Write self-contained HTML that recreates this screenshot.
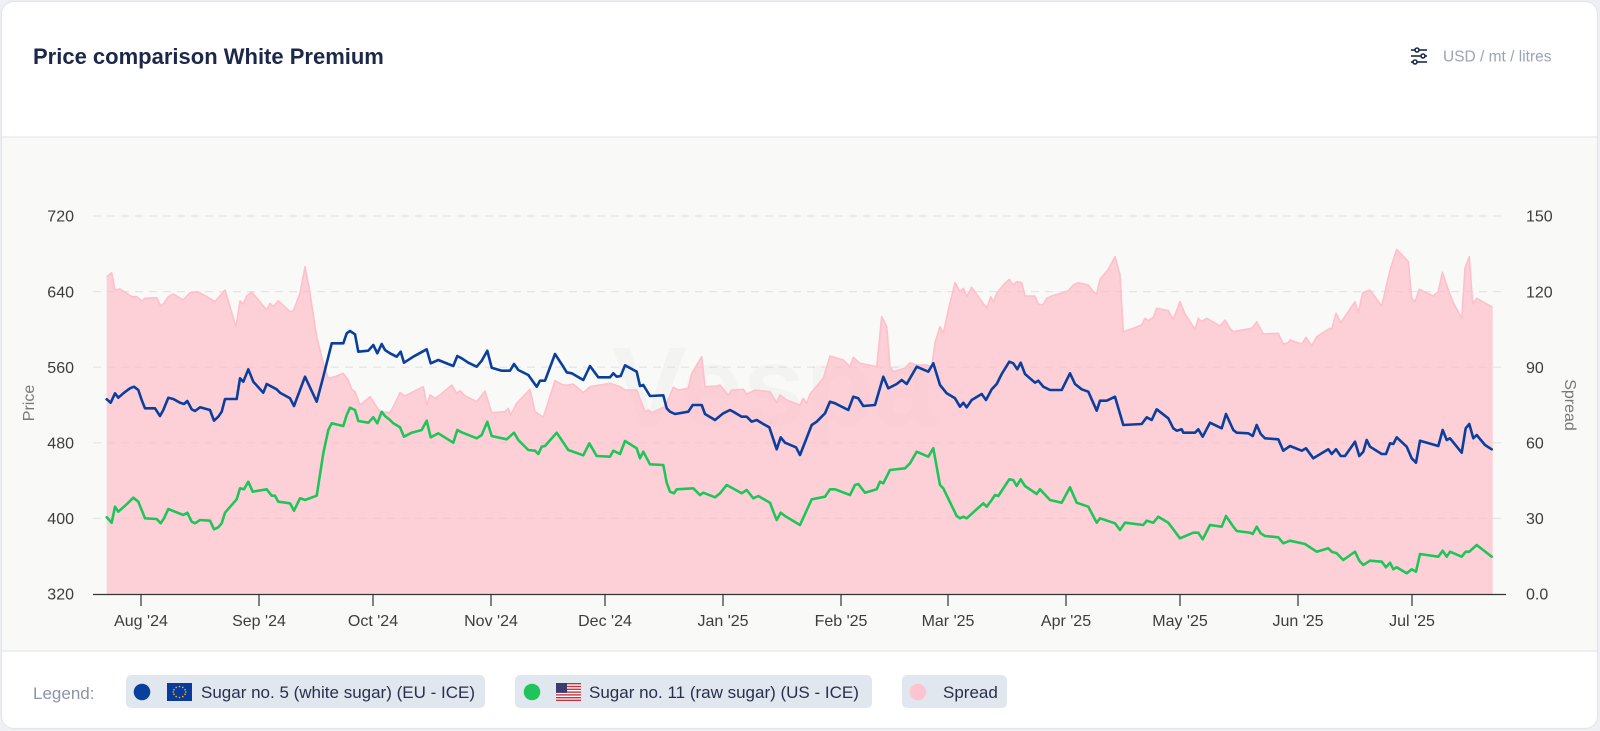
<!DOCTYPE html>
<html><head><meta charset="utf-8"><style>
html,body{margin:0;padding:0;background:#eef0f3;width:1600px;height:731px;overflow:hidden}
svg{display:block;font-family:"Liberation Sans",Arial,sans-serif}
</style></head><body>
<svg width="1600" height="731" viewBox="0 0 1600 731" xmlns="http://www.w3.org/2000/svg">
<defs><clipPath id="card"><rect x="1" y="1" width="1597" height="728" rx="12"/></clipPath></defs>
<g clip-path="url(#card)">
<rect x="0" y="0" width="1600" height="731" fill="#ffffff"/>
<rect x="0" y="137" width="1600" height="514" fill="#f9f9f8"/>
<line x1="0" y1="137" x2="1600" y2="137" stroke="#e6e8ec" stroke-width="1.2"/>
<line x1="0" y1="651" x2="1600" y2="651" stroke="#e6e8ec" stroke-width="1.2"/>
</g>
<rect x="1.5" y="1.5" width="1596" height="727" rx="12" fill="none" stroke="#e3e5ea" stroke-width="1.2"/>

<text x="33" y="64" font-size="22" font-weight="bold" fill="#1d2749">Price comparison White Premium</text>
<g stroke="#1e2a4e" stroke-width="1.6" fill="#fff">
<line x1="1411" y1="50" x2="1427" y2="50"/><line x1="1411" y1="56" x2="1427" y2="56"/><line x1="1411" y1="62" x2="1427" y2="62"/>
<circle cx="1417" cy="50" r="2"/><circle cx="1423" cy="56" r="2"/><circle cx="1415" cy="62" r="2"/>
</g>
<text x="1443" y="61.5" font-size="15.5" fill="#9ca3b8">USD / mt / litres</text>

<!-- grid -->
<g stroke="#e4e4e4" stroke-width="1.2" stroke-dasharray="8,6">
<line x1="93" y1="216" x2="1506" y2="216"/>
<line x1="93" y1="291.6" x2="1506" y2="291.6"/>
<line x1="93" y1="367.2" x2="1506" y2="367.2"/>
<line x1="93" y1="442.8" x2="1506" y2="442.8"/>
<line x1="93" y1="518.4" x2="1506" y2="518.4"/>
</g>

<text x="612" y="425" font-size="112" font-weight="bold" fill="#999" opacity="0.05">Vespa</text>

<!-- spread area -->
<path fill="#ffb6c3" fill-opacity="0.62" stroke="none" d="M106.7,594 L106.7,276.7 111.7,272.7 115,290 120,289 126.7,293.3 131.7,296.7 136.7,296.7 141.7,301 145,298.3 156.7,297.7 160.7,306 164,303.3 168.3,296.7 173.3,294 183.3,300 190,292.7 198.3,292 206.7,296.7 215,301.7 225,290 230,306.7 236,326.7 240,301 243.3,304 246.7,296 251.7,292 260,301.7 266.7,310 270,303.3 273.3,306.7 278.3,300.7 290,311.7 293.3,311 300,293.3 305,266.7 310,293.3 316.7,336.7 323.3,363.3 328.3,378.3 335,376.7 343.3,373.3 348.3,380 351.7,389.3 355,391.7 360,405 370,396.7 380,411.7 390,412.7 395,403.3 400,392.7 405,396 413.3,391.7 423.3,386.7 426.7,405 430,395 435,398.3 440,395 451.7,385 456.7,393.3 460,390.7 465,395.7 476.7,401.7 485,391 491.7,412.7 505,411.7 508.3,408.3 510.7,415 516.7,403.3 530,389.3 535,411.7 543.3,417.3 555,380.7 563.3,385 568.3,385 573.3,384 583.3,392.7 590,386.7 610,383.3 620,386.7 625,390 636.7,390 645,411.7 648.3,410 651.7,412.7 665,406.7 673.3,387.3 678.3,390 688.3,388.3 691.7,373.3 701.7,356.7 705,386.7 716.7,386 720,385 728.3,395 731.7,390 743.3,389.3 746.7,394 755,390 770,391.7 776.7,402.7 780,395 786.7,400 800,405 803.3,398.3 806.7,403.3 810,394 823.3,378.3 830,356 843.3,360 850,366.7 853.3,357.3 860,363.3 873.3,366 876.7,366.7 881.7,316.7 886.7,326.7 890,366.7 893.3,371.7 905,368.3 910,362.7 916.7,365 926.7,365 931.7,366.7 935,342.7 940,326.7 943.3,333.3 948.3,310 955,282.7 960,291.7 963.3,288.3 966.7,296.7 971.7,287.3 986.7,308.3 990.7,296.7 993.3,301.7 996.7,293.3 1003.3,285 1009.3,279.3 1012.7,285 1016.7,281.7 1021.7,282.7 1025,296 1035,296 1038.3,304 1042.7,305 1046.7,298.3 1051.7,296 1063.3,292.7 1068.3,290.7 1073.3,285 1078.3,282.7 1088.3,285 1093.3,291.7 1096.7,294 1100,279.3 1108.3,269.3 1115,256.7 1120,275 1123.3,331.7 1133.3,328.3 1141.7,325 1145,318.3 1148.3,320.7 1153.3,317.3 1156.7,308.3 1168.3,310.7 1173.3,319.3 1180,301.7 1185,314 1195,329.3 1198.3,318.3 1201.7,321.7 1206.7,318.3 1220,326 1225,320 1230,328.3 1233.3,331.7 1251.7,328.3 1256.7,321.7 1263.3,334 1278.3,333.3 1283.3,344 1288.3,342.7 1290,340 1301.7,344 1306,337.3 1311.7,346 1316.7,336.7 1330,328.3 1331.7,329.3 1336,313.3 1340.7,322.7 1355,301.7 1358.3,312.7 1362.7,292.7 1370,290 1381.7,306 1390,270 1396.7,249.3 1408.3,261.7 1411.7,298.3 1415,301.7 1419.3,289.3 1433.3,296 1438.3,291.7 1442.3,272.3 1448.3,290 1453.3,302.7 1461.7,318.3 1465,268.3 1469.3,256.7 1472.7,304 1476.7,298.3 1492.7,307.3 L1492.7,594 Z"/>
<polyline fill="none" stroke="#ffbfcb" stroke-width="1.6" stroke-linejoin="round" points="106.7,276.7 111.7,272.7 115,290 120,289 126.7,293.3 131.7,296.7 136.7,296.7 141.7,301 145,298.3 156.7,297.7 160.7,306 164,303.3 168.3,296.7 173.3,294 183.3,300 190,292.7 198.3,292 206.7,296.7 215,301.7 225,290 230,306.7 236,326.7 240,301 243.3,304 246.7,296 251.7,292 260,301.7 266.7,310 270,303.3 273.3,306.7 278.3,300.7 290,311.7 293.3,311 300,293.3 305,266.7 310,293.3 316.7,336.7 323.3,363.3 328.3,378.3 335,376.7 343.3,373.3 348.3,380 351.7,389.3 355,391.7 360,405 370,396.7 380,411.7 390,412.7 395,403.3 400,392.7 405,396 413.3,391.7 423.3,386.7 426.7,405 430,395 435,398.3 440,395 451.7,385 456.7,393.3 460,390.7 465,395.7 476.7,401.7 485,391 491.7,412.7 505,411.7 508.3,408.3 510.7,415 516.7,403.3 530,389.3 535,411.7 543.3,417.3 555,380.7 563.3,385 568.3,385 573.3,384 583.3,392.7 590,386.7 610,383.3 620,386.7 625,390 636.7,390 645,411.7 648.3,410 651.7,412.7 665,406.7 673.3,387.3 678.3,390 688.3,388.3 691.7,373.3 701.7,356.7 705,386.7 716.7,386 720,385 728.3,395 731.7,390 743.3,389.3 746.7,394 755,390 770,391.7 776.7,402.7 780,395 786.7,400 800,405 803.3,398.3 806.7,403.3 810,394 823.3,378.3 830,356 843.3,360 850,366.7 853.3,357.3 860,363.3 873.3,366 876.7,366.7 881.7,316.7 886.7,326.7 890,366.7 893.3,371.7 905,368.3 910,362.7 916.7,365 926.7,365 931.7,366.7 935,342.7 940,326.7 943.3,333.3 948.3,310 955,282.7 960,291.7 963.3,288.3 966.7,296.7 971.7,287.3 986.7,308.3 990.7,296.7 993.3,301.7 996.7,293.3 1003.3,285 1009.3,279.3 1012.7,285 1016.7,281.7 1021.7,282.7 1025,296 1035,296 1038.3,304 1042.7,305 1046.7,298.3 1051.7,296 1063.3,292.7 1068.3,290.7 1073.3,285 1078.3,282.7 1088.3,285 1093.3,291.7 1096.7,294 1100,279.3 1108.3,269.3 1115,256.7 1120,275 1123.3,331.7 1133.3,328.3 1141.7,325 1145,318.3 1148.3,320.7 1153.3,317.3 1156.7,308.3 1168.3,310.7 1173.3,319.3 1180,301.7 1185,314 1195,329.3 1198.3,318.3 1201.7,321.7 1206.7,318.3 1220,326 1225,320 1230,328.3 1233.3,331.7 1251.7,328.3 1256.7,321.7 1263.3,334 1278.3,333.3 1283.3,344 1288.3,342.7 1290,340 1301.7,344 1306,337.3 1311.7,346 1316.7,336.7 1330,328.3 1331.7,329.3 1336,313.3 1340.7,322.7 1355,301.7 1358.3,312.7 1362.7,292.7 1370,290 1381.7,306 1390,270 1396.7,249.3 1408.3,261.7 1411.7,298.3 1415,301.7 1419.3,289.3 1433.3,296 1438.3,291.7 1442.3,272.3 1448.3,290 1453.3,302.7 1461.7,318.3 1465,268.3 1469.3,256.7 1472.7,304 1476.7,298.3 1492.7,307.3"/>

<!-- blue -->
<polyline fill="none" stroke="#0b3f9e" stroke-width="2.6" stroke-linejoin="round" stroke-linecap="round" points="106.7,399.3 110.7,402.7 115,393.3 118.3,397.7 123.3,393.3 130,388.3 134,386.7 138.3,390 141.7,400 145,408.3 155,408.3 160,416 163.3,410 168.3,397.7 173.3,399 180,402.7 184,404 187.3,401 191.7,409.3 195,411 200,407.3 210,410 214,420.7 218.3,416.7 221.7,411.7 225,399 236.7,399 240,378.3 243.3,381.7 248.3,369.3 253.3,381.7 263.3,392.7 266.7,384 271.7,386.7 276.7,389.3 280,392.7 290,398.3 294,406 305,376.7 316.7,401.7 323.3,376.7 331.7,343.3 343.3,343.3 346.7,333.3 350,331 355,334.3 358.3,351.7 368.3,350.7 373.3,345 377.3,353.3 381.7,344 385,350 390,353.3 396.7,356.7 400.7,351.7 404,362.7 413.3,356.7 426.7,349.3 430.7,363.3 438.3,360 453.3,366 457.3,356 461.7,358.3 468.3,362.7 476.7,366.7 481.7,360.7 487.3,350.7 491.7,367.7 501.7,370.7 510,370.7 514,364 518.3,370 528.3,375 536.7,386.7 540,380.7 545,380.7 555,354 563.3,366.7 566.7,372.3 571.7,373.3 583.3,380 590,366 598.3,377.3 610,377.3 613.3,373.3 616.7,376.7 620.7,376 625,365.3 636.7,371.7 640,386 643.3,385 650,396 663.3,395.3 666.7,408.3 670,411.7 675,414 688.3,411.7 692.7,405 701.7,405 705,414 715,420 723.3,413.3 730,410 735,412.7 741.7,416.7 746.7,416.7 751.7,421.7 756.7,420 763.3,424 769.3,427.3 776.7,449.3 780.7,437.3 785,442.7 796,447.3 800,455 811.7,425 816.7,421.7 825,413.3 830,401.7 835,403.3 848.3,410 853.3,396.7 858.3,398.3 863.3,406 875,405 883.3,376.7 888.3,388.3 896.7,384 901.7,380 906.7,384 916.7,366.7 928.3,371.7 933.3,363.3 940,385 946.7,393.3 955,398.3 960,406.7 963.3,402.7 966.7,407.3 971.7,400 981.7,394 986,400 991.7,389.3 996.7,384 1001.7,374 1009.3,361.7 1013.3,363.3 1017.3,369.3 1020.7,362.7 1025,374 1035,382.7 1038.3,380.7 1043.3,386.7 1050,390 1061.7,390 1070,373.3 1075,384 1081.7,389.3 1088.3,391.7 1096.7,410.7 1100,400.7 1106.7,400.7 1115,396.7 1123.3,425 1141.7,424 1146.7,417.3 1151.7,420 1156.7,409.3 1168.3,418.3 1173.3,428.3 1176.7,430.7 1181.7,429.3 1183.3,432.7 1195,432.7 1198.3,429.3 1202.7,436.7 1210,422.7 1221.7,428.3 1226,414 1233.3,430 1236.7,432.7 1248.3,433.3 1252.7,436 1256.7,425 1260.7,434 1265,438.3 1278.3,439.3 1283.3,450.7 1290,446 1301.7,450.7 1306,448.3 1313.3,458.3 1328.3,449.3 1331.7,454 1336,449.3 1340.7,456 1345,456 1355,441.7 1359.3,456 1363.3,451.7 1366.7,440 1370,446.7 1381.7,454 1386,454 1390,443.3 1393.3,444 1396.7,437.3 1406.7,446.7 1411.7,458.3 1416,462.7 1420,440.7 1438.3,446 1442.7,430 1446.7,440 1450,438.3 1461.7,452.7 1465.7,428.3 1469.3,424 1473.3,438.3 1476.7,435 1485,445 1491.7,449.3"/>

<!-- green -->
<polyline fill="none" stroke="#1fc55a" stroke-width="2.6" stroke-linejoin="round" stroke-linecap="round" points="106.7,517.3 111.7,522.7 115,506.7 118.3,511.7 123.3,507.3 128.3,502.7 133.3,497.7 138.3,501.7 145,518.3 156.7,519 160.7,523.3 164,518.3 168.3,509 183.3,515 187.3,512.7 191.7,521.7 195,523.3 200,520 210,520.7 214,529.3 218.3,527.3 221.7,523.3 225,512.7 236.7,499.3 240,488.3 244,489.3 248.3,481.7 252.7,491.7 266.7,489.3 271.7,495.7 275,495.7 278.3,501.7 290,503.3 294,510.7 300,498.3 303.3,499.3 305,500 316.7,495.7 323.3,453.3 328.3,430 331.7,423.3 343.3,426 346.7,415 350,407.7 355,410 358.3,421 368.3,422.7 373.3,417.3 377.3,423.3 381.7,411.7 385,416 390,420 393.3,423.3 400,427.3 404,436.7 411.7,432.7 421.7,430 426.7,420.7 430.7,437.3 438.3,433.3 453.3,442.7 457.3,430 461.7,432.3 476.7,438.3 481.7,435 487.3,421.7 491.7,436 506.7,439.3 514,432.7 518.3,440 528.3,450 535,450.7 538.3,454 541.7,446.7 545,446 556.7,432.7 568.3,450 583.3,455.3 589.3,443.3 596.7,456 610,456.7 613.3,450.7 620,454 625,441 636.7,448.3 640,458.3 643.3,451.7 650,464.3 663.3,465 666.7,482.7 670,491.7 674,493.3 676.7,489.3 693.3,488.3 700,495 703.3,492.7 715,497.3 720,493.3 726.7,485 741.7,493.3 746.7,490 753.3,498.3 758.3,496 770,502.7 774,513.3 776.7,520 780.7,512.7 785,516 800,525 811.7,499.3 825,496.7 830,489.3 835,489.3 850,495 855,485 858.3,484 865,492.7 876.7,489.3 880,481.7 883.3,483.3 890,470 905,468.3 910,463.3 916.7,451.7 928.3,456.7 933.3,448.3 940,485 943.3,488.3 956.7,516 960,518.3 963.3,516.7 966.7,518.3 983.3,503.3 986.7,506.7 991.7,500 995,495 998.3,496 1009.3,479.3 1013.3,480 1016.7,486 1020.7,479.3 1025,486 1036.7,494 1040,489.3 1050,500 1061.7,502.7 1070,487.3 1076.7,502.7 1088.3,506.7 1096.7,522.7 1100,518.3 1115,523.3 1120,530 1125,522.7 1143.3,525 1146.7,520.7 1153.3,522.7 1158.3,516.7 1168.3,522.7 1180,538.3 1193.3,532.7 1198.3,532.7 1202.7,539.3 1210,525 1221.7,526.7 1226,516 1233.3,526.7 1236.7,531 1250,532.7 1252.7,534 1256.7,526.7 1260.7,533.3 1265,536 1278.3,537.3 1283.3,543.3 1290,540.7 1305,544 1316.7,551.7 1328.3,548.3 1331.7,551.7 1336.7,553.3 1343.3,560 1355,551.7 1359.3,560.7 1363.3,565 1370,560.7 1381.7,561.7 1386,567.3 1390,562.7 1393.3,569.3 1396.7,567.3 1406.7,573.3 1411.7,569.3 1416,571.7 1420,554 1438.3,556.7 1442.7,550.7 1446.7,556.7 1450,551.7 1461.7,556.7 1465.7,551.7 1469.3,551.7 1476.7,545 1491.7,556.7"/>

<!-- x axis -->
<line x1="93" y1="594.5" x2="1506" y2="594.5" stroke="#333" stroke-width="1.2"/>
<g stroke="#333" stroke-width="1.2">
<line x1="141" y1="594" x2="141" y2="606"/><line x1="259" y1="594" x2="259" y2="606"/><line x1="373" y1="594" x2="373" y2="606"/><line x1="491" y1="594" x2="491" y2="606"/><line x1="605" y1="594" x2="605" y2="606"/><line x1="723" y1="594" x2="723" y2="606"/><line x1="841" y1="594" x2="841" y2="606"/><line x1="948" y1="594" x2="948" y2="606"/><line x1="1066" y1="594" x2="1066" y2="606"/><line x1="1180" y1="594" x2="1180" y2="606"/><line x1="1298" y1="594" x2="1298" y2="606"/><line x1="1412" y1="594" x2="1412" y2="606"/>
</g>
<g font-size="16" fill="#3d3d3d" text-anchor="middle">
<text x="141" y="626">Aug '24</text><text x="259" y="626">Sep '24</text><text x="373" y="626">Oct '24</text><text x="491" y="626">Nov '24</text><text x="605" y="626">Dec '24</text><text x="723" y="626">Jan '25</text><text x="841" y="626">Feb '25</text><text x="948" y="626">Mar '25</text><text x="1066" y="626">Apr '25</text><text x="1180" y="626">May '25</text><text x="1298" y="626">Jun '25</text><text x="1412" y="626">Jul '25</text>
</g>
<g font-size="16" fill="#3d3d3d" text-anchor="end">
<text x="74" y="221.7">720</text><text x="74" y="297.3">640</text><text x="74" y="372.9">560</text><text x="74" y="448.5">480</text><text x="74" y="524.1">400</text><text x="74" y="599.7">320</text>
</g>
<g font-size="16" fill="#3d3d3d">
<text x="1526" y="221.7">150</text><text x="1526" y="297.3">120</text><text x="1526" y="372.9">90</text><text x="1526" y="448.5">60</text><text x="1526" y="524.1">30</text><text x="1526" y="599.7">0.0</text>
</g>
<text transform="translate(34,403) rotate(-90)" font-size="16" fill="#7a7a7a" text-anchor="middle">Price</text>
<text transform="translate(1565,405) rotate(90)" font-size="16" fill="#7a7a7a" text-anchor="middle">Spread</text>

<!-- legend -->
<text x="33" y="699" font-size="17" fill="#8d93a8">Legend:</text>
<rect x="126" y="675" width="359" height="33" rx="5" fill="#e1e7ef"/>
<circle cx="142" cy="692" r="8.3" fill="#0b3f9e"/>
<rect x="167" y="683" width="25" height="18" fill="#0a3a9c"/>
<g fill="#f4c400">
<circle cx="179.5" cy="686.5" r="0.8"/><circle cx="182.8" cy="687.4" r="0.8"/><circle cx="185" cy="689.7" r="0.8"/><circle cx="185.8" cy="692" r="0.8"/><circle cx="185" cy="694.3" r="0.8"/><circle cx="182.8" cy="696.6" r="0.8"/><circle cx="179.5" cy="697.5" r="0.8"/><circle cx="176.2" cy="696.6" r="0.8"/><circle cx="174" cy="694.3" r="0.8"/><circle cx="173.2" cy="692" r="0.8"/><circle cx="174" cy="689.7" r="0.8"/><circle cx="176.2" cy="687.4" r="0.8"/>
</g>
<text x="201" y="698" font-size="17" fill="#27304d">Sugar no. 5 (white sugar) (EU - ICE)</text>

<rect x="515" y="675" width="357" height="33" rx="5" fill="#e1e7ef"/>
<circle cx="532" cy="692" r="8.3" fill="#1fc55a"/>
<g>
<rect x="556" y="683" width="25" height="18" fill="#ffffff"/>
<rect x="556" y="683" width="25" height="1.4" fill="#c8313e"/><rect x="556" y="685.8" width="25" height="1.4" fill="#c8313e"/><rect x="556" y="688.6" width="25" height="1.4" fill="#c8313e"/><rect x="556" y="691.4" width="25" height="1.4" fill="#c8313e"/><rect x="556" y="694.2" width="25" height="1.4" fill="#c8313e"/><rect x="556" y="697" width="25" height="1.4" fill="#c8313e"/><rect x="556" y="699.6" width="25" height="1.4" fill="#c8313e"/>
<rect x="556" y="683" width="11" height="9.8" fill="#3c3b6e"/>
</g>
<text x="589" y="698" font-size="17" fill="#27304d">Sugar no. 11 (raw sugar) (US - ICE)</text>

<rect x="902" y="675" width="105" height="33" rx="5" fill="#e1e7ef"/>
<circle cx="918" cy="692" r="8.3" fill="#ffc4cf"/>
<text x="943" y="698" font-size="17" fill="#27304d">Spread</text>
</svg>
</body></html>
